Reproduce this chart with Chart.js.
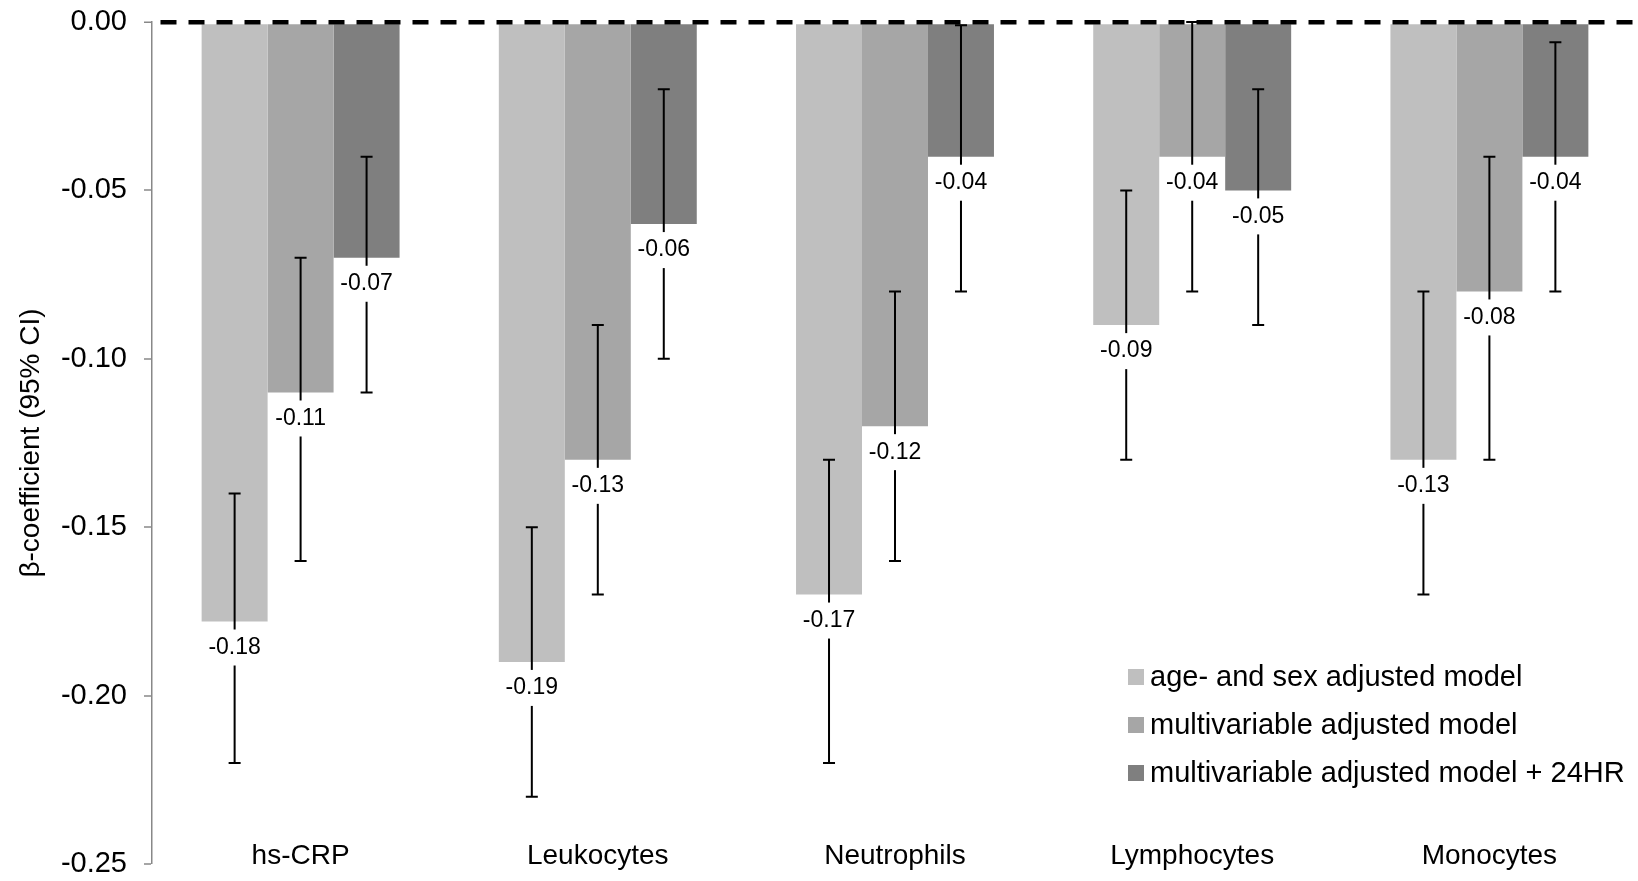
<!DOCTYPE html>
<html>
<head>
<meta charset="utf-8">
<title>Beta-coefficients of inflammatory markers</title>
<script src="https://cdn.jsdelivr.net/npm/chart.js@4.4.1/dist/chart.umd.min.js"></script>
<style>
  html, body { margin: 0; padding: 0; background: #fff; }
  #wrap { width: 1638px; height: 881px; }
</style>
</head>
<body>
<div id="wrap"><canvas id="coefChart" width="1638" height="881"></canvas></div>
<script>
// categories on the x axis
const markers = ['hs-CRP', 'Leukocytes', 'Neutrophils', 'Lymphocytes', 'Monocytes'];
const modelNames = ['age- and sex adjusted model', 'multivariable adjusted model', 'multivariable adjusted model + 24HR'];

// beta-coefficients and 95% CI, one set of arrays per model
const ageSexBeta  = [-0.178, -0.19, -0.17, -0.09, -0.13];
const ageSexLower = [-0.22, -0.23, -0.22, -0.13, -0.17];
const ageSexUpper = [-0.14, -0.15, -0.13, -0.05, -0.08];

const multiBeta  = [-0.11, -0.13, -0.12, -0.04, -0.08];
const multiLower = [-0.16, -0.17, -0.16, -0.08, -0.13];
const multiUpper = [-0.07, -0.09, -0.08, 0.00, -0.04];

const multi24Beta  = [-0.07, -0.06, -0.04, -0.05, -0.04];
const multi24Lower = [-0.11, -0.10, -0.08, -0.09, -0.08];
const multi24Upper = [-0.04, -0.02, -0.001, -0.02, -0.006];

// y axis range / ticks
const yMin = -0.25;
const yMax = 0;
const yStep = 0.05;

const FONT = '"Liberation Sans", Arial, sans-serif';
const barColors = ['#bfbfbf', '#a6a6a6', '#7f7f7f'];

// --- error bars + value labels (white boxed, below the bar end) ---
const errorBarPlugin = {
  id: 'errorBars',
  afterDatasetsDraw(chart) {
    const ctx = chart.ctx;
    const yScale = chart.scales.y;
    ctx.save();
    ctx.strokeStyle = '#000';
    ctx.lineWidth = 2;
    chart.data.datasets.forEach((ds, i) => {
      chart.getDatasetMeta(i).data.forEach((bar, j) => {
        const top = yScale.getPixelForValue(ds.upper[j]);
        const bot = yScale.getPixelForValue(ds.lower[j]);
        ctx.beginPath();
        ctx.moveTo(bar.x, top); ctx.lineTo(bar.x, bot);
        ctx.moveTo(bar.x - 6, top); ctx.lineTo(bar.x + 6, top);
        ctx.moveTo(bar.x - 6, bot); ctx.lineTo(bar.x + 6, bot);
        ctx.stroke();
      });
    });
    // value labels sit over the error bars
    ctx.font = '23px ' + FONT;
    ctx.textAlign = 'center';
    ctx.textBaseline = 'middle';
    chart.data.datasets.forEach((ds, i) => {
      chart.getDatasetMeta(i).data.forEach((bar, j) => {
        const txt = ds.data[j].toFixed(2);
        const w = ctx.measureText(txt).width;
        const yc = bar.y + 26;
        ctx.fillStyle = '#fff';
        ctx.fillRect(bar.x - w / 2 - 3, yc - 18, w + 6, 36);
        ctx.fillStyle = '#000';
        ctx.fillText(txt, bar.x, yc);
      });
    });
    ctx.restore();
  }
};

// --- legend drawn inside the plot area, bottom right ---
const insideLegendPlugin = {
  id: 'insideLegend',
  afterDraw(chart) {
    const ctx = chart.ctx;
    const area = chart.chartArea;
    const x0 = area.right - 510;
    const y0 = area.bottom - 187;
    ctx.save();
    ctx.font = '29px ' + FONT;
    ctx.textAlign = 'left';
    ctx.textBaseline = 'middle';
    chart.data.datasets.forEach((ds, i) => {
      const yc = y0 + i * 48;
      ctx.fillStyle = ds.backgroundColor;
      ctx.fillRect(x0, yc - 8, 16, 16);
      ctx.fillStyle = '#000';
      ctx.fillText(ds.label, x0 + 22, yc + 1);
    });
    ctx.restore();
  }
};

const isZero = v => Math.abs(v) < 1e-9;

new Chart(document.getElementById('coefChart'), {
  type: 'bar',
  data: {
    labels: markers,
    datasets: [
      { label: modelNames[0], data: ageSexBeta, lower: ageSexLower, upper: ageSexUpper, backgroundColor: barColors[0] },
      { label: modelNames[1], data: multiBeta, lower: multiLower, upper: multiUpper, backgroundColor: barColors[1] },
      { label: modelNames[2], data: multi24Beta, lower: multi24Lower, upper: multi24Upper, backgroundColor: barColors[2] }
    ]
  },
  options: {
    responsive: false,
    animation: false,
    datasets: { bar: { categoryPercentage: 0.666, barPercentage: 1.0, borderWidth: 0 } },
    layout: { padding: { top: 22, left: 0, right: 0, bottom: 0 } },
    plugins: {
      legend: { display: false },
      tooltip: { enabled: false }
    },
    scales: {
      x: {
        grid: { display: false, drawTicks: false },
        border: { display: false },
        ticks: {
          mirror: true,          // labels sit just inside the plot bottom
          color: '#000',
          font: { family: FONT, size: 28 },
          padding: -9
        },
        afterFit(scale) { scale.height = 17; }
      },
      y: {
        min: yMin,
        max: yMax,
        grid: {
          z: 1,                  // dashed zero line over the bars
          color: c => (isZero(c.tick.value) ? '#000' : 'rgba(0,0,0,0)'),
          lineWidth: c => (isZero(c.tick.value) ? 4.5 : 0),
          tickColor: '#888',
          tickWidth: 1.5,
          tickLength: 8
        },
        border: { display: true, z: 1, color: '#888', width: 1.5, dash: [16, 12], dashOffset: 20 },
        ticks: {
          stepSize: yStep,
          color: '#000',
          font: { family: FONT, size: 29 },
          padding: 17,
          callback: v => v.toFixed(2)
        },
        title: {
          display: true,
          text: 'β-coefficient (95% CI)',
          color: '#000',
          font: { family: FONT, size: 28 },
          padding: { top: 14, bottom: 0 }
        },
        afterFit(scale) {
          scale.width = 152;
          scale.paddingTop = 0;
          scale.paddingBottom = 0;
        }
      }
    }
  },
  plugins: [errorBarPlugin, insideLegendPlugin]
});
</script>
</body>
</html>
